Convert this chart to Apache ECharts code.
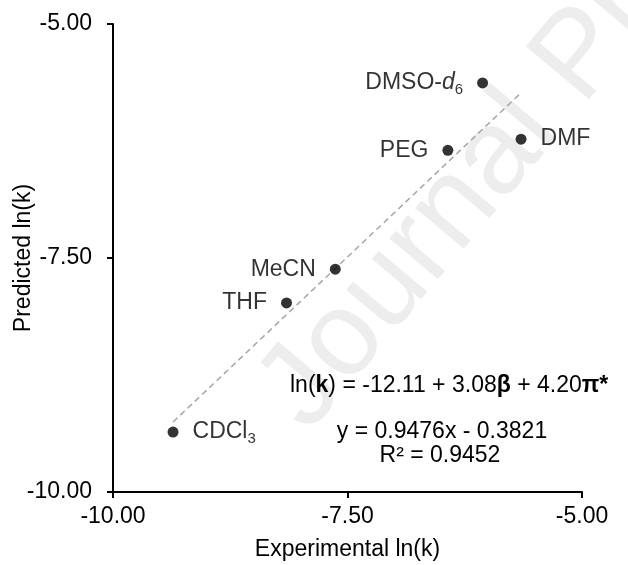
<!DOCTYPE html>
<html>
<head>
<meta charset="utf-8">
<script src="https://cdn.jsdelivr.net/npm/echarts@6/dist/echarts.min.js"></script>
<style>
  html, body { margin: 0; padding: 0; background: #fff; }
  #chart { width: 628px; height: 565px; }
</style>
</head>
<body>
<div id="chart"></div>
<script>
// ---- data ----
const solvents = ['DMSO-d6', 'PEG', 'DMF', 'MeCN', 'THF', 'CDCl3'];
const experimentalLnK = [-6.06, -6.43, -5.65, -7.63, -8.15, -9.36];
const predictedLnK = [-5.63, -6.35, -6.23, -7.62, -7.98, -9.36];
const axisTicks = [-10, -7.5, -5];
const trendCoefficients = [0.9476, -0.3821]; // slope, intercept (from the chart's equation)
const equationLines = [
  '{n|ln(}{b|k}{n|) = -12.11 + 3.08}{b|β}{n| + 4.20}{b|π*}',
  'y = 0.9476x - 0.3821',
  'R² = 0.9452'
];

// ---- label rich text per solvent ----
const labelRich = {
  'DMSO-d6': '{n|DMSO-}{i|d}{s|6}',
  'CDCl3': '{n|CDCl}{s|3}'
};
const labelLeft = { 'DMSO-d6': true, 'PEG': true, 'MeCN': true, 'THF': true };

const FONT = '"Liberation Sans", Arial, sans-serif';

const points = solvents.map((name, i) => ({
  name: name,
  value: [experimentalLnK[i], predictedLnK[i]],
  label: {
    show: true,
    position: labelLeft[name] ? 'left' : 'right',
    distance: 14,
    formatter: labelRich[name] || ('{n|' + name + '}'),
    rich: {
      n: { fontFamily: FONT, fontSize: 23, color: '#000' },
      i: { fontFamily: FONT, fontSize: 23, color: '#000', fontStyle: 'italic' },
      s: { fontFamily: FONT, fontSize: 15, color: '#000', padding: [13, 0, 0, 0] }
    }
  }
}));

const xMin = Math.min.apply(null, experimentalLnK);
const xMax = Math.max.apply(null, experimentalLnK);
const trendData = [xMin, xMax].map(x => [x, trendCoefficients[0] * x + trendCoefficients[1]]);

const chart = echarts.init(document.getElementById('chart'), null, { renderer: 'canvas' });

const axisCommon = {
  type: 'value',
  min: axisTicks[0],
  max: axisTicks[axisTicks.length - 1],
  interval: axisTicks[1] - axisTicks[0],
  nameLocation: 'middle',
  nameMoveOverlap: false,
  nameTextStyle: { fontFamily: FONT, fontSize: 23, color: '#000' },
  axisLine: { show: true, onZero: false, lineStyle: { color: '#000', width: 2 } },
  axisTick: { show: true, inside: false, length: 6, lineStyle: { color: '#000', width: 2 } },
  axisLabel: {
    fontFamily: FONT, fontSize: 23, color: '#000',
    formatter: v => v.toFixed(2)
  },
  splitLine: { show: false }
};

chart.setOption({
  animation: false,
  backgroundColor: '#fff',
  grid: { left: 113, right: 46, top: 24, bottom: 73, containLabel: false, outerBoundsMode: 'none' },
  xAxis: Object.assign({}, axisCommon, {
    name: 'Experimental ln(k)',
    nameGap: 46,
    axisLabel: Object.assign({}, axisCommon.axisLabel, { margin: 13 })
  }),
  yAxis: Object.assign({}, axisCommon, {
    name: 'Predicted ln(k)',
    nameGap: 78,
    axisLabel: Object.assign({}, axisCommon.axisLabel, { margin: 21 })
  }),
  graphic: [
    {
      type: 'text',
      z: -10,
      x: 329, y: 451,
      rotation: 50 * Math.PI / 180,
      silent: true,
      style: {
        text: 'Journal Pre-proof',
        font: '120px "Liberation Sans", Arial, sans-serif',
        fill: '#ededed',
        textAlign: 'left',
        textVerticalAlign: 'bottom'
      }
    },
    {
      type: 'text',
      z: 10,
      x: 290, y: 386,
      style: {
        text: equationLines[0],
        textAlign: 'left',
        textVerticalAlign: 'middle',
        rich: {
          n: { fontFamily: FONT, fontSize: 23, fill: '#000' },
          b: { fontFamily: FONT, fontSize: 23, fontWeight: 'bold', fill: '#000' }
        }
      }
    },
    {
      type: 'text',
      z: 10,
      x: 442, y: 432,
      style: {
        text: equationLines[1],
        font: '23px "Liberation Sans", Arial, sans-serif',
        fill: '#000',
        textAlign: 'center',
        textVerticalAlign: 'middle'
      }
    },
    {
      type: 'text',
      z: 10,
      x: 440, y: 456,
      style: {
        text: equationLines[2],
        font: '23px "Liberation Sans", Arial, sans-serif',
        fill: '#000',
        textAlign: 'center',
        textVerticalAlign: 'middle'
      }
    }
  ],
  series: [
    {
      type: 'line',
      data: trendData,
      symbol: 'none',
      silent: true,
      lineStyle: { color: '#a6a6a6', width: 1.5, type: [6, 4] },
      z: 1
    },
    {
      type: 'scatter',
      data: points,
      symbol: 'circle',
      symbolSize: 11,
      itemStyle: { color: '#000' },
      z: 3
    }
  ]
});
</script>
</body>
</html>
